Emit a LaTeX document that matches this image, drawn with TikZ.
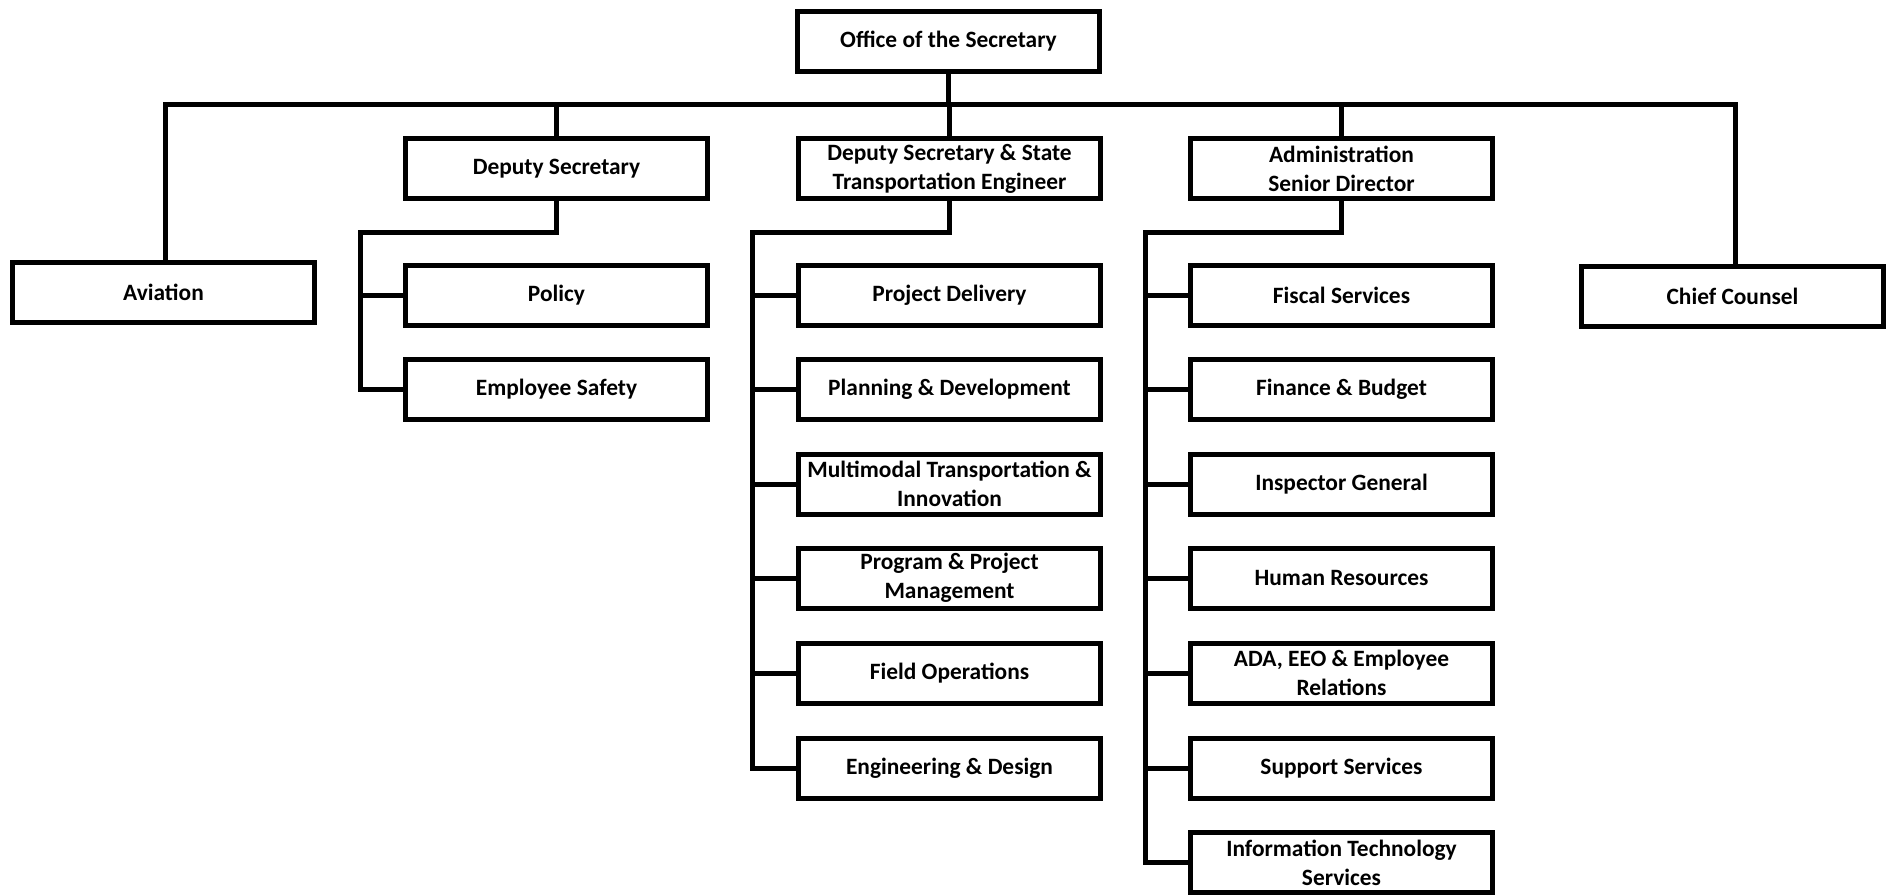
\documentclass[tikz,border=0pt]{standalone}
\usepackage{fontspec}
\setmainfont{Carlito}
\begin{document}
\begin{tikzpicture}[x=1pt,y=-1pt,
  box/.style={draw=black,line width=5pt,minimum width=302pt,minimum height=60pt,
    inner sep=0pt,align=center,font=\fontsize{23.4}{29}\selectfont\bfseries},
  conn/.style={line width=5pt,line cap=rect}]
\useasboundingbox[fill=white] (0,0) rectangle (1892,896);
% top
\node[box] (office) at (948.5,41.5) {Office of the Secretary};
\node[box] (depsec) at (556.5,168.5) {Deputy Secretary};
\node[box] (ste) at (949.5,168.5) {Deputy Secretary \& State\\Transportation Engineer};
\node[box] (admin) at (1341.5,168.5) {Administration\\Senior Director};
\node[box] (aviation) at (163.5,292.5) {Aviation};
\node[box] (chief) at (1732.5,296.5) {Chief Counsel};
% deputy secretary column
\node[box] (policy) at (556.5,295) {Policy};
\node[box] (safety) at (556.5,389) {Employee Safety};
% STE column
\node[box] (pd) at (949.5,295) {Project Delivery};
\node[box] (plan) at (949.5,389) {Planning \& Development};
\node[box] (multi) at (949.5,484) {Multimodal Transportation \&\\Innovation};
\node[box] (prog) at (949.5,578) {Program \& Project\\Management};
\node[box] (field) at (949.5,673) {Field Operations};
\node[box] (eng) at (949.5,768) {Engineering \& Design};
% admin column
\node[box] (fiscal) at (1341.5,295) {Fiscal Services};
\node[box] (fin) at (1341.5,389) {Finance \& Budget};
\node[box] (insp) at (1341.5,484) {Inspector General};
\node[box] (hr) at (1341.5,578) {Human Resources};
\node[box] (ada) at (1341.5,673) {ADA, EEO \& Employee\\Relations};
\node[box] (supp) at (1341.5,768) {Support Services};
\node[box] (it) at (1341.5,862.5) {Information Technology\\Services};
% coordinates
\coordinate (barL) at (165,105);
\coordinate (barR) at (1735,105);
\coordinate (dsA) at (556.5,232);
\coordinate (dsB) at (360,232);
\coordinate (stA) at (949.5,232);
\coordinate (stB) at (752,232);
\coordinate (adA) at (1341.5,232);
\coordinate (adB) at (1145,232);
% top bar
\draw[conn] (office.south) -- (office.south |- barL);
\draw[conn] (aviation.north -| barL) -- (barL) -- (barR) -- (barR |- chief.north);
\draw[conn] (depsec.north) -- (depsec.north |- barL);
\draw[conn] (ste.north) -- (ste.north |- barL);
\draw[conn] (admin.north) -- (admin.north |- barL);
% deputy secretary branch
\draw[conn] (depsec.south) -- (dsA) -- (dsB) -- (dsB |- safety.west) -- (safety.west);
\draw[conn] (dsB |- policy.west) -- (policy.west);
% STE branch
\draw[conn] (ste.south) -- (stA) -- (stB) -- (stB |- eng.west) -- (eng.west);
\foreach \n in {pd,plan,multi,prog,field} \draw[conn] (stB |- \n.west) -- (\n.west);
% admin branch
\draw[conn] (admin.south) -- (adA) -- (adB) -- (adB |- it.west) -- (it.west);
\foreach \n in {fiscal,fin,insp,hr,ada,supp} \draw[conn] (adB |- \n.west) -- (\n.west);
\end{tikzpicture}
\end{document}
